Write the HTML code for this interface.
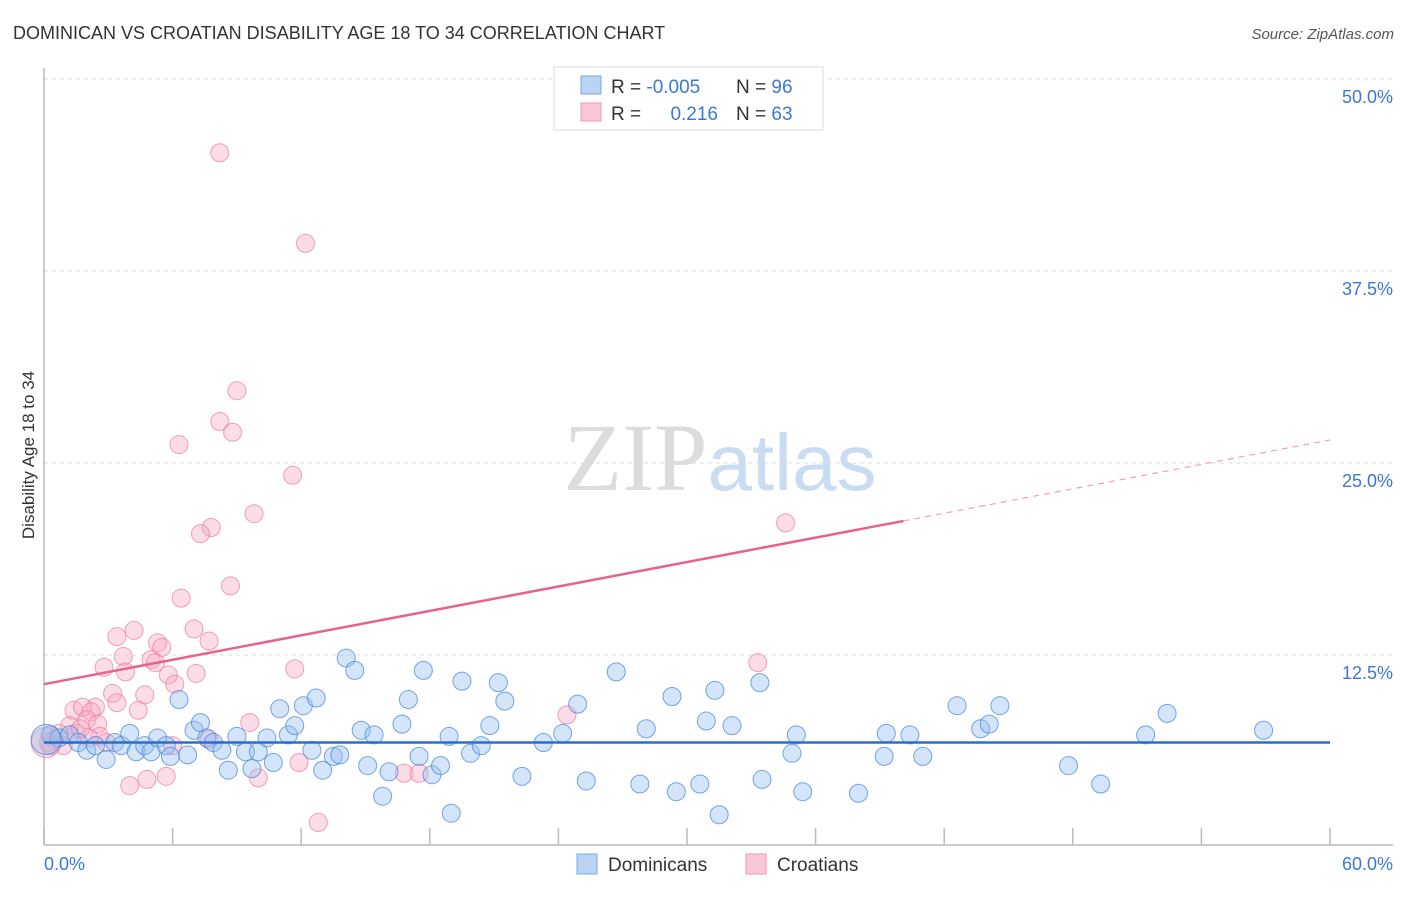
<!DOCTYPE html>
<html><head><meta charset="utf-8"><style>
body{margin:0;background:#fff;font-family:"Liberation Sans",sans-serif;}
svg text{font-family:"Liberation Sans",sans-serif;}
</style></head><body>
<svg id="chart" width="1406" height="892" xmlns="http://www.w3.org/2000/svg">
<text x="13" y="39" font-size="18" fill="#333">DOMINICAN VS CROATIAN DISABILITY AGE 18 TO 34 CORRELATION CHART</text>
<text x="1394" y="39" font-size="15" fill="#555" text-anchor="end" font-style="italic">Source: ZipAtlas.com</text>
<text x="720" y="490" font-size="96" text-anchor="middle"><tspan font-family="Liberation Serif" fill="#dcdcdc">ZIP</tspan><tspan fill="#c9dcf2" font-size="80">atlas</tspan></text>
<text transform="translate(34,455) rotate(-90)" font-size="17" fill="#333" text-anchor="middle">Disability Age 18 to 34</text>
<g id="grid"></g><g id="axes"></g><g id="pts"></g><g id="lines"></g>
<g>
<rect x="554" y="67" width="269" height="63" fill="#fff" stroke="#ddd"/>
<rect x="581" y="76" width="20" height="18" fill="#b8d3f5" stroke="#7aa8e6"/>
<rect x="581" y="103" width="20" height="18" fill="#fac7d6" stroke="#f09ab5"/>
<text x="611" y="93" font-size="19" fill="#333">R = <tspan fill="#3a78d4">-0.005</tspan></text>
<text x="736" y="93" font-size="19" fill="#333">N = <tspan fill="#3a78d4">96</tspan></text>
<text x="611" y="120" font-size="19" fill="#333">R = </text>
<text x="718" y="120" font-size="19" fill="#3a78d4" text-anchor="end">0.216</text>
<text x="736" y="120" font-size="19" fill="#333">N = <tspan fill="#3a78d4">63</tspan></text>
</g>
<g>
<rect x="577" y="854" width="20" height="20" fill="#b8d3f5" stroke="#7aa8e6"/>
<text x="608" y="871" font-size="19" fill="#333">Dominicans</text>
<rect x="746" y="854" width="20" height="20" fill="#fac7d6" stroke="#f09ab5"/>
<text x="777" y="871" font-size="19" fill="#333">Croatians</text>
</g>
</svg>
<script>
const blueX=[0.3,0.7,1.2,1.6,2.0,2.4,2.9,3.3,3.6,4.0,4.3,4.7,5.0,5.3,5.7,5.9,6.3,6.7,7.0,7.3,7.6,7.9,8.3,8.6,9.0,9.4,9.7,10.0,10.4,10.7,11.0,11.4,11.7,12.1,12.5,12.7,13.0,13.5,13.8,14.1,14.5,14.8,15.1,15.4,15.8,16.1,16.7,17.0,17.5,17.7,18.1,18.5,18.9,19.0,19.5,19.9,20.4,20.8,21.2,21.5,22.3,23.3,24.2,24.9,25.3,26.7,27.8,28.1,29.3,29.5,30.6,30.9,31.3,31.5,32.1,33.4,33.5,34.9,35.1,35.4,38.0,39.2,39.3,40.4,41.0,42.6,43.7,44.1,44.6,47.8,49.3,51.4,52.4,56.9,0.1];
const blueY=[7.3,7.1,7.3,6.8,6.3,6.6,5.7,6.8,6.6,7.4,6.2,6.6,6.2,7.1,6.6,5.9,9.6,6.0,7.6,8.1,7.1,6.8,6.3,5.0,7.2,6.2,5.1,6.2,7.1,5.5,9.0,7.3,7.9,9.2,6.3,9.7,5.0,5.9,6.0,12.3,11.5,7.6,5.3,7.3,3.3,4.9,8.0,9.6,5.9,11.5,4.7,5.3,7.2,2.2,10.8,6.1,6.6,7.9,10.7,9.5,4.6,6.8,7.4,9.3,4.3,11.4,4.1,7.7,9.8,3.6,4.1,8.2,10.2,2.1,7.9,10.7,4.4,6.1,7.3,3.6,3.5,5.9,7.4,7.3,5.9,9.2,7.7,8.0,9.2,5.3,4.1,7.3,8.7,7.6,7.0];
const pinkX=[8.2,12.2,9.0,8.2,8.8,6.3,11.6,9.8,7.8,7.3,8.7,6.4,7.0,4.2,3.4,7.7,5.3,5.5,5.0,3.7,5.2,11.7,2.8,7.1,3.8,5.8,6.1,3.2,4.7,3.4,2.4,1.4,1.8,2.2,4.4,9.6,1.2,2.0,2.5,1.5,0.7,0.5,0.2,0.9,2.6,2.9,7.7,6.0,24.4,11.9,16.8,17.5,4.0,4.8,5.7,10.0,12.8,34.6,33.3,0.3,2.1,1.7,0.1];
const pinkY=[45.2,39.3,29.7,27.7,27.0,26.2,24.2,21.7,20.8,20.4,17.0,16.2,14.2,14.1,13.7,13.4,13.3,13.0,12.2,12.4,12.0,11.6,11.7,11.3,11.4,11.2,10.6,10.0,9.9,9.4,9.1,8.9,9.1,8.8,8.9,8.1,7.9,8.3,8.0,7.4,7.4,7.0,6.8,6.6,7.2,6.8,7.0,6.6,8.6,5.5,4.8,4.8,4.0,4.4,4.6,4.5,1.6,21.1,12.0,6.6,7.1,7.7,6.8];
const xTicks=[0,6,12,18,24,30,36,42,48,54,60];
const yTicks=[12.5,25.0,37.5,50.0];
const blueTrend=[6.8,0.0];   // intercept, slope
const pinkTrend=[10.6,0.265];
const pinkSolidEnd=40.1;
const NS="http://www.w3.org/2000/svg";
const X=v=>44+v/60*1286;
const Y=v=>847-v/12.5*192;
function mk(tag,attrs,parent){const e=document.createElementNS(NS,tag);for(const k in attrs)e.setAttribute(k,attrs[k]);document.getElementById(parent).appendChild(e);return e;}
yTicks.forEach(t=>{
 const l=mk('line',{x1:44,x2:1393,y1:Y(t),y2:Y(t),stroke:'#ddd','stroke-dasharray':'4,4'},'grid');
 
 
 const tx=mk('text',{x:1393,y:Y(t)+24,'font-size':18,fill:'#3a78d4','text-anchor':'end'},'grid');
 tx.textContent=t.toFixed(1)+'%';
 
 
});
let a=mk('line',{x1:44,x2:44,y1:68,y2:845,stroke:'#bbb','stroke-width':1.5},'axes');


a=mk('line',{x1:44,x2:1393,y1:845,y2:845,stroke:'#bbb','stroke-width':1.5},'axes');


xTicks.forEach(t=>{
 const l=mk('line',{x1:X(t),x2:X(t),y1:828,y2:845,stroke:'#bbb','stroke-width':1.5},'axes');
 
 
});
[[0,'0.0%','start',44],[60,'60.0%','end',1393]].forEach(d=>{
 const tx=mk('text',{x:d[3],y:870,'font-size':18,fill:'#3a78d4','text-anchor':d[2]},'axes');
 tx.textContent=d[1];
 
 
});
pinkX.forEach((x,i)=>{
 const c=mk('circle',{cx:X(x),cy:Y(pinkY[i]),r:i==pinkX.length-1?15:9,fill:'rgba(248,170,195,0.4)',stroke:'rgba(236,120,160,0.7)','stroke-width':1},'pts');
 
 
});
blueX.forEach((x,i)=>{
 const c=mk('circle',{cx:X(x),cy:Y(blueY[i]),r:i==blueX.length-1?15:9,fill:'rgba(150,190,240,0.4)',stroke:'rgba(60,130,220,0.7)','stroke-width':1},'pts');
 
 
});
let t=mk('line',{x1:X(0),x2:X(60),y1:Y(blueTrend[0]),y2:Y(blueTrend[0]+blueTrend[1]*60),stroke:'#2a6fd0','stroke-width':2.5},'lines');


const py=x=>pinkTrend[0]+pinkTrend[1]*x;
t=mk('line',{x1:X(0),x2:X(pinkSolidEnd),y1:Y(py(0)),y2:Y(py(pinkSolidEnd)),stroke:'#e8628f','stroke-width':2.5},'lines');


t=mk('line',{x1:X(pinkSolidEnd),x2:X(60),y1:Y(py(pinkSolidEnd)),y2:Y(py(60)),stroke:'#eea0b8','stroke-width':1.2,'stroke-dasharray':'6,5'},'lines');


</script>
</body></html>
